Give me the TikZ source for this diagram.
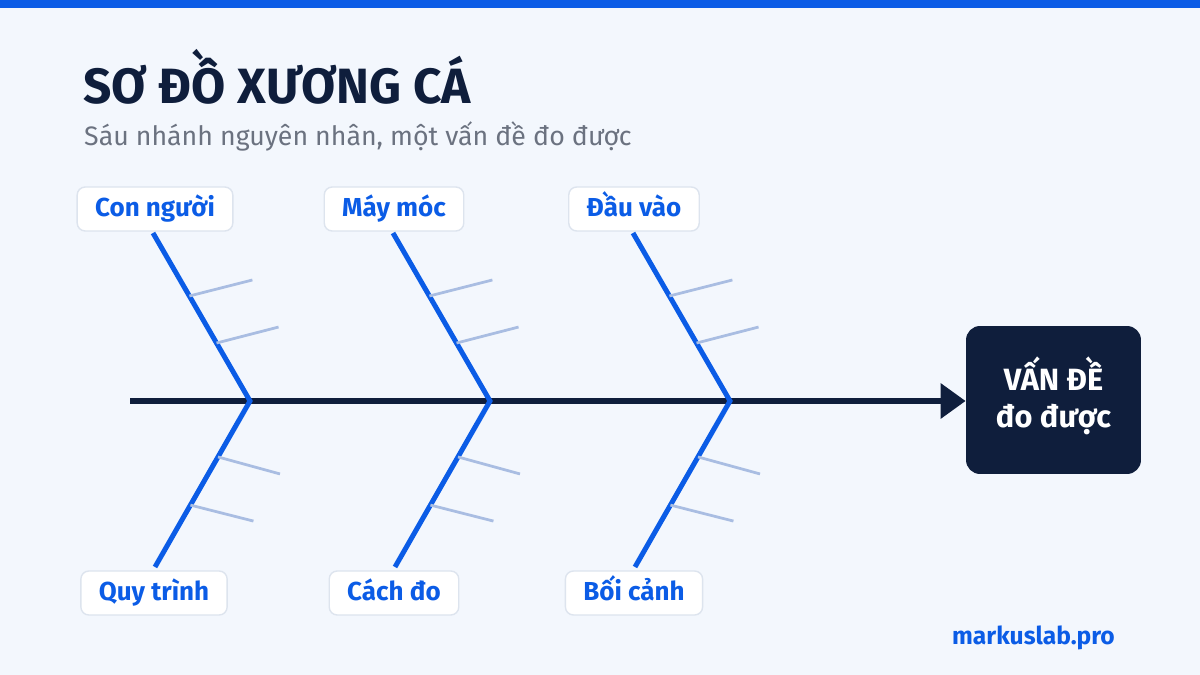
\documentclass[tikz,border=0pt]{standalone}
\usepackage{fontspec}
\setmainfont{Fira Sans}
\usetikzlibrary{arrows.meta, positioning, calc}
\definecolor{fishNavy}{HTML}{0F1E3C}
\definecolor{fishBlue}{HTML}{0B5CE6}
\definecolor{ribBlue}{HTML}{A9BDE2}
\definecolor{subGrey}{HTML}{6B7280}
\definecolor{bgPale}{HTML}{F3F7FD}
\definecolor{edgeGrey}{HTML}{DDE4EE}

\begin{document}
\begin{tikzpicture}[x=0.02cm, y=-0.02cm,
    rama/.style={draw=edgeGrey, fill=white, rounded corners=0.16cm, line width=0.8pt,
                 minimum height=0.88cm, inner xsep=0.36cm, text height=11pt, text depth=3pt,
                 font=\fontsize{14.8}{17}\selectfont\bfseries, text=fishBlue},
    efecto/.style={fill=fishNavy, rounded corners=0.28cm, minimum width=3.5cm,
                   minimum height=2.96cm, align=center, text=white, text depth=9pt,
                   font=\fontsize{17.5}{21.5}\selectfont\bfseries},
    hueso/.style={draw=fishBlue, line width=0.1cm},
    espina/.style={draw=ribBlue, line width=0.055cm},
    lomo/.style={-{Triangle[length=0.5cm, width=0.68cm]}, line width=0.14cm, color=fishNavy}]
    \fill[bgPale] (0,0) rectangle (1200,675);
    \fill[fishBlue] (0,0) rectangle (1200,8);
    \useasboundingbox (0,0) rectangle (1200,675);

    \node[anchor=base west, text=fishNavy, font=\fontsize{28.2}{31}\selectfont\bfseries]
         (titulo) at (77,104) {SƠ ĐỒ XƯƠNG CÁ};
    \node[anchor=base west, text=subGrey, font=\fontsize{15.2}{17}\selectfont]
         (subtitulo) at (78,146) {Sáu nhánh nguyên nhân, một vấn đề đo được};

    % efecto y lomo
    \node[efecto] (vd) at (1053.5,400) {VẤN ĐỀ\\đo được};
    \coordinate (cola) at (130,401);
    \draw[lomo] (cola) -- (vd.west |- cola);

    % categorias
    \node[rama] (cn) at (155,209) {Con người};
    \node[rama] (mm) at (394,209) {Máy móc};
    \node[rama] (dv) at (634,209) {Đầu vào};
    \node[rama] (qt) at (154,593) {Quy trình};
    \node[rama] (cd) at (394,593) {Cách đo};
    \node[rama] (bc) at (634,593) {Bối cảnh};

    % huesos
    \foreach \x/\n in {250/1, 490/2, 730/3} {
      \coordinate (j\n) at (\x,401);
      \coordinate (t\n) at (\x-97,233);
      \coordinate (b\n) at (\x-95,567);
      \draw[hueso] (t\n) -- (j\n) -- (b\n);
      \draw[espina] ($(t\n)!0.375!(j\n)$) -- ++(63,-16);
      \draw[espina] ($(t\n)!0.655!(j\n)$) -- ++(62,-16);
      \draw[espina] ($(j\n)!0.337!(b\n)$) -- ++(62,17);
      \draw[espina] ($(j\n)!0.627!(b\n)$) -- ++(63,16);
    }

    \node[anchor=base east, text=fishBlue, font=\fontsize{14}{16}\selectfont\bfseries]
         (firma) at (1121,644) {markuslab.pro};
  \end{tikzpicture}
\end{document}
